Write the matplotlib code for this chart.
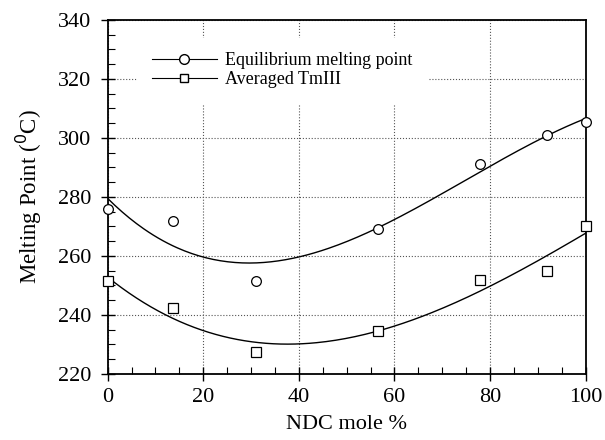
import numpy as np
import matplotlib.pyplot as plt
from matplotlib.ticker import MultipleLocator

plt.rcParams['font.family'] = ['Liberation Serif', 'DejaVu Serif']

ndc = [0, 13.6, 31, 56.5, 78, 92, 100]
tm_eq = [276, 272, 251.5, 269, 291, 301, 305.5]
tm_avg = [251.5, 242.5, 227.5, 234.5, 252, 255, 270]

fig = plt.figure(figsize=(6.05, 4.4), dpi=100)
ax = fig.add_axes([0.178, 0.15, 0.79, 0.805])

# cubic fits through the measured points
xs = np.linspace(0, 100, 200)
for y in (tm_eq, tm_avg):
    coef = np.polyfit(ndc, y, 3)
    ax.plot(xs, np.polyval(coef, xs), color='black', lw=1.0)

ax.plot(ndc, tm_eq, 'o', mfc='white', mec='black', ms=7, mew=0.9, clip_on=False, zorder=3)
ax.plot(ndc, tm_avg, 's', mfc='white', mec='black', ms=6.5, mew=0.9, clip_on=False, zorder=3)

# legend handles (line with marker)
ax.plot([], [], '-o', color='black', mfc='white', lw=0.8, ms=7, label='Equilibrium melting point')
ax.plot([], [], '-s', color='black', mfc='white', lw=0.8, ms=6, label='Averaged TmIII')

ax.set_xlim(0, 100)
ax.set_ylim(220, 340)
ax.xaxis.set_major_locator(MultipleLocator(20))
ax.xaxis.set_minor_locator(MultipleLocator(5))
ax.yaxis.set_major_locator(MultipleLocator(20))
ax.yaxis.set_minor_locator(MultipleLocator(5))
ax.tick_params(which='major', direction='inout', length=10, width=1.0, labelsize=16, pad=5,
               top=False, right=False)
ax.tick_params(axis='y', which='major', pad=7)
ax.tick_params(which='minor', direction='in', length=5, width=0.8, top=False, right=False)
ax.grid(True, which='major', color='#555555', ls=':', lw=0.8)
for s in ax.spines.values():
    s.set_linewidth(1.3)

ax.set_xlabel('NDC mole %', fontsize=16, labelpad=6)
ax.set_ylabel('Melting Point ($^{0}$C)', fontsize=16.5, labelpad=10)

leg = ax.legend(loc='upper left', bbox_to_anchor=(0.062, 0.95), frameon=True, fontsize=13,
                handlelength=3.6, handletextpad=0.45, labelspacing=0.12, borderpad=0.8,
                borderaxespad=0)
leg.get_frame().set_edgecolor('white')
leg.get_frame().set_alpha(1)
leg.get_frame().set_boxstyle('square', pad=0)

fig.savefig('out.png', dpi=100)
